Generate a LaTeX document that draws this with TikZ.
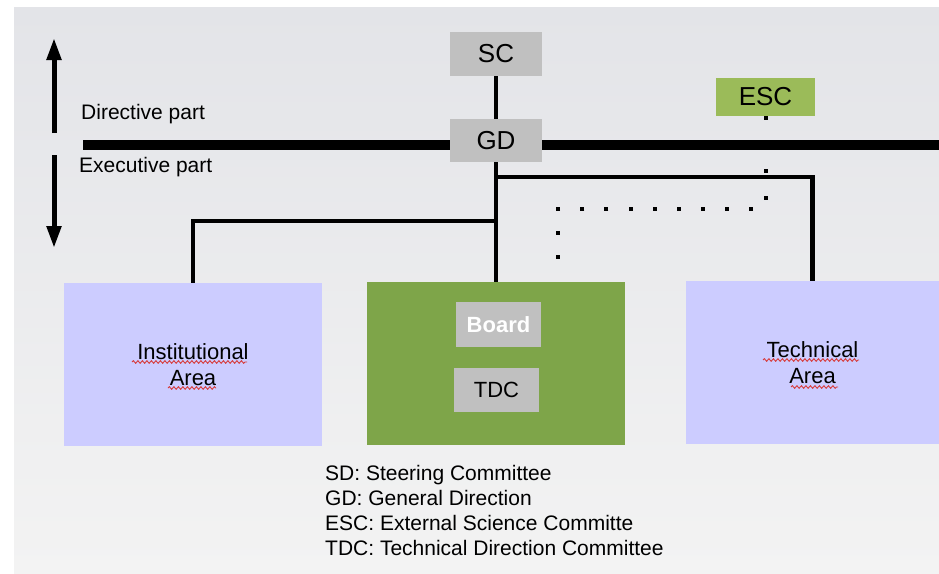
\documentclass[tikz,border=0pt]{standalone}
\usepackage{fontspec}
\setmainfont{Liberation Sans}
\usetikzlibrary{arrows.meta,decorations.pathmorphing,calc}
\definecolor{bgtop}{RGB}{227,228,232}
\definecolor{bgbot}{RGB}{243,243,243}
\definecolor{boxgray}{RGB}{192,192,192}
\definecolor{lightgreen}{RGB}{155,187,89}
\definecolor{darkgreen}{RGB}{126,165,73}
\definecolor{lavender}{RGB}{204,204,255}
\definecolor{spellred}{RGB}{215,60,60}
\begin{document}
\begin{tikzpicture}[x=1pt,y=-1pt,
  rbox/.style={draw=none,inner sep=0pt,outer sep=0pt,text=black},
  conn/.style={line width=4.5pt,line join=miter},
  bigline/.style={line width=10pt},
  dotsA/.style={line width=4pt,line cap=butt,dash pattern=on 4pt off 22.7pt},
  dotsB/.style={line width=4pt,line cap=butt,dash pattern=on 4pt off 20.1pt},
  varrow/.style={line width=5pt,-{Triangle[width=14pt,length=22pt]}},
  spell/.style={spellred,line width=0.9pt,decorate,decoration={snake,amplitude=1.3pt,segment length=4.5pt}},
  legend/.style={anchor=base west,inner sep=0pt,font=\fontsize{21}{25}\selectfont}
]
\useasboundingbox (0,0) rectangle (939,573);
% background
\fill[white] (0,0) rectangle (939,573);
\shade[top color=bgtop,bottom color=bgbot] (14,7) rectangle (939,573);

% boxes
\node[rbox,fill=boxgray,minimum width=92pt,minimum height=44pt,font=\fontsize{26}{30}\selectfont] (SC) at (496,54) {SC};
\node[rbox,fill=boxgray,minimum width=92pt,minimum height=43pt,font=\fontsize{26}{30}\selectfont] (GD) at (496,140.5) {GD};
\node[rbox,fill=lightgreen,minimum width=99pt,minimum height=38pt,font=\fontsize{26}{30}\selectfont] (ESC) at (765.5,97) {ESC};
\node[rbox,fill=darkgreen,minimum width=258pt,minimum height=163pt] (cont) at (496,363.5) {};
\node[rbox,fill=boxgray,minimum width=85pt,minimum height=45pt,text=white,font=\fontsize{22}{26}\selectfont\bfseries] (board) at (498.5,324.5) {Board};
\node[rbox,fill=boxgray,minimum width=85pt,minimum height=44pt,font=\fontsize{22}{26}\selectfont] (TDC) at (496.5,390) {TDC};
\node[rbox,fill=lavender,minimum width=258pt,minimum height=163pt,align=center,font=\fontsize{22}{26}\selectfont] (inst) at (193,364.5) {Institutional\\Area};
\node[rbox,fill=lavender,minimum width=253pt,minimum height=163pt,align=center,font=\fontsize{22}{26}\selectfont] (tech) at (812.5,362.5) {Technical\\Area};

% spell-check underlines
\draw[spell] (132,362) -- (247,362);
\draw[spell] (168,388) -- (216,388);
\draw[spell] (763,360) -- (859,360);
\draw[spell] (791,387) -- (838,387);

% dotted link ESC - board
\coordinate (dA) at (765.5,200);
\coordinate (dB) at (753,209);
\coordinate (dC) at (558,209);
\coordinate (dD) at (558,262);
\draw[dotsA] (ESC.south) -- (dA);
\draw[dotsB] (dB) -- (dC) -- (dD);

% thick separation line
\coordinate (ll) at (83,145);
\coordinate (rr) at (939,145);
\draw[bigline] (ll) -- (ll -| GD.west);
\draw[bigline] (rr -| GD.east) -- (rr);

% connectors
\draw[conn] (SC) -- (GD);
\draw[conn] (GD.south) -- (cont.north);
\coordinate (j1) at (496,177);
\coordinate (j2) at (496,221);
\draw[conn] (j1) -- (j1 -| tech.north) -- (tech.north);
\draw[conn] (j2) -- (j2 -| inst.north) -- (inst.north);

% arrows
\coordinate (a0) at (54,133);
\coordinate (a1) at (54,38);
\coordinate (b0) at (54,155);
\coordinate (b1) at (54,248);
\draw[varrow] (a0) -- (a1);
\draw[varrow] (b0) -- (b1);

% labels
\node[anchor=base west,inner sep=0pt,font=\fontsize{21}{25}\selectfont] (dir) at (81,119) {Directive part};
\node[anchor=base west,inner sep=0pt,font=\fontsize{21}{25}\selectfont] (exe) at (79,172) {Executive part};

% legend
\node[legend] (l1) at (325,480) {SD: Steering Committee};
\node[legend] (l2) at (325,505) {GD: General Direction};
\node[legend] (l3) at (325,530) {ESC: External Science Committe};
\node[legend] (l4) at (325,555) {TDC: Technical Direction Committee};
\end{tikzpicture}
\end{document}
